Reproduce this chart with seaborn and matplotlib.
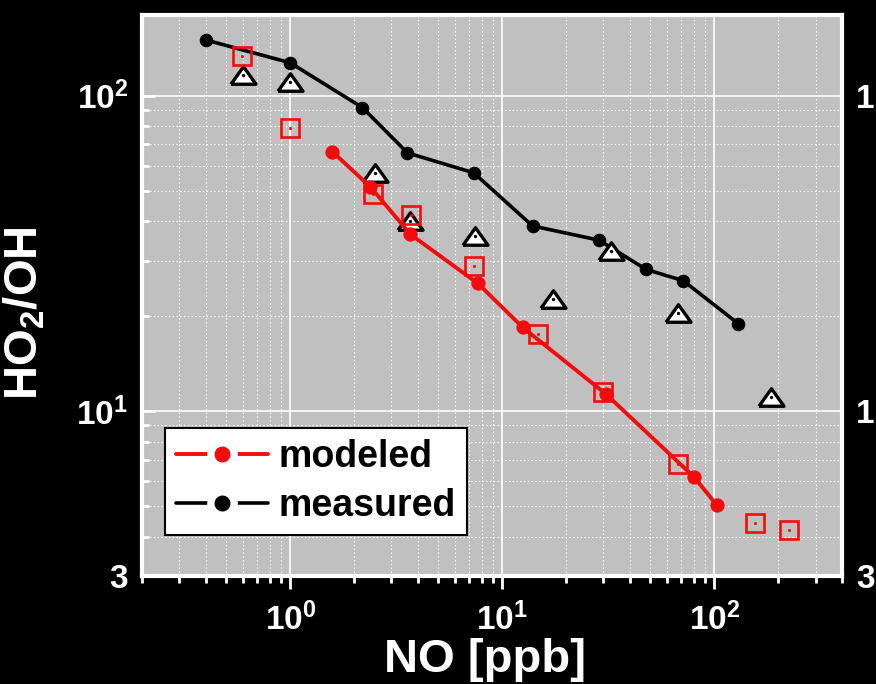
import numpy as np
import pandas as pd
import matplotlib
matplotlib.use("Agg")
import matplotlib.pyplot as plt
import seaborn as sns
from matplotlib.lines import Line2D
from matplotlib.legend_handler import HandlerTuple
from matplotlib.ticker import FixedLocator, NullFormatter, FixedFormatter

# ---------------- data ----------------
measured_no = [0.40, 1.0, 2.19, 3.57, 7.33, 13.9, 28.6, 47.7, 71.3, 130]
measured_ratio = [150, 127, 91.6, 65.8, 56.9, 38.6, 34.8, 28.1, 25.9, 18.9]

modeled_no = [1.58, 2.39, 3.69, 7.66, 12.5, 30.9, 80.4, 103]
modeled_ratio = [66.4, 51.3, 36.3, 25.4, 18.4, 11.3, 6.17, 5.02]

square_no = [0.593, 1.0, 2.47, 3.73, 7.35, 14.7, 29.9, 67.6, 156, 224]
square_ratio = [133, 79.1, 48.8, 41.8, 28.8, 17.5, 11.5, 6.78, 4.43, 4.20]

triangle_no = [0.60, 1.0, 2.52, 3.69, 7.41, 17.3, 32.6, 67.6, 186]
triangle_ratio = [116, 110, 56.9, 40.0, 35.8, 22.6, 32.1, 20.4, 11.1]

x_major = [1, 10, 100]
x_major_labels = [r"$\mathbf{10^{0}}$", r"$\mathbf{10^{1}}$", r"$\mathbf{10^{2}}$"]
y_major = [3, 10, 100]
y_major_labels = [r"$\mathbf{3}$", r"$\mathbf{10^{1}}$", r"$\mathbf{10^{2}}$"]
y_right_labels = ["3", "1", "1"]   # right-hand labels, cropped in the original
legend_labels = ["modeled", "measured"]

# ---------------- style ----------------
sns.set_style("dark")
plt.rcParams["font.family"] = ["Liberation Sans", "DejaVu Sans"]
plt.rcParams["font.weight"] = "bold"
plt.rcParams["mathtext.fontset"] = "custom"
plt.rcParams["mathtext.rm"] = "Liberation Sans:bold"
plt.rcParams["mathtext.bf"] = "Liberation Sans:bold"
plt.rcParams["mathtext.it"] = "Liberation Sans:bold:italic"

RED = "#f20c0c"
BG = "#c0c0c0"

fig = plt.figure(figsize=(8.76, 6.84), dpi=100, facecolor="black")
ax = fig.add_axes([142 / 876, 1 - 576 / 684, 700 / 876, 561 / 684])
ax.set_facecolor(BG)
ax.set_xscale("log")
ax.set_yscale("log")

tri = [(-1.0, -0.7), (1.0, -0.7), (0.0, 0.7), (-1.0, -0.7)]
df_tri = pd.DataFrame({"NO": triangle_no, "ratio": triangle_ratio})
df_sq = pd.DataFrame({"NO": square_no, "ratio": square_ratio})
df_meas = pd.DataFrame({"NO": measured_no, "ratio": measured_ratio})
df_mod = pd.DataFrame({"NO": modeled_no, "ratio": modeled_ratio})

sns.lineplot(data=df_meas, x="NO", y="ratio", ax=ax, color="black",
             linewidth=2.6, marker="o", markersize=9, markeredgecolor="black",
             markerfacecolor="black", errorbar=None, zorder=3, legend=False)

sns.lineplot(data=df_tri, x="NO", y="ratio", ax=ax, linestyle="none",
             marker=tri, markersize=18, markerfacecolor="white",
             markeredgecolor="black", markeredgewidth=2.4, color="black",
             errorbar=None, zorder=4, legend=False)
sns.lineplot(data=df_tri, x="NO", y="ratio", ax=ax, linestyle="none",
             marker="o", markersize=2.4, markerfacecolor="black",
             markeredgecolor="black", markeredgewidth=0, color="black",
             errorbar=None, zorder=4.1, legend=False)

sns.lineplot(data=df_sq, x="NO", y="ratio", ax=ax, linestyle="none",
             marker="s", markersize=13, markerfacecolor="none",
             markeredgecolor=RED, markeredgewidth=1.9, color=RED,
             errorbar=None, zorder=5, legend=False)
sns.lineplot(data=df_sq, x="NO", y="ratio", ax=ax, linestyle="none",
             marker="o", markersize=2.2, markerfacecolor=RED,
             markeredgecolor=RED, markeredgewidth=0, color=RED,
             errorbar=None, zorder=5.1, legend=False)

sns.lineplot(data=df_mod, x="NO", y="ratio", ax=ax, color=RED,
             linewidth=2.8, marker="o", markersize=9.5, markeredgecolor=RED,
             markerfacecolor=RED, errorbar=None, zorder=6, legend=False)

ax.set_xlim(0.2, 400)
ax.set_ylim(3, 180)

# ticks
ax.xaxis.set_major_locator(FixedLocator(x_major))
ax.xaxis.set_major_formatter(FixedFormatter(x_major_labels))
x_minor = [m * d for d in (0.1, 1, 10, 100) for m in range(2, 10)]
ax.xaxis.set_minor_locator(FixedLocator(x_minor))
ax.xaxis.set_minor_formatter(NullFormatter())

ax.yaxis.set_major_locator(FixedLocator(y_major))
ax.yaxis.set_major_formatter(FixedFormatter(y_major_labels))
y_minor = [m * d for d in (1, 10, 100) for m in range(2, 10) if m * d != 3]
ax.yaxis.set_minor_locator(FixedLocator(y_minor))
ax.yaxis.set_minor_formatter(NullFormatter())

ax.tick_params(axis="y", which="both", direction="in", left=True, right=True,
               labelleft=True, labelright=False, colors="white", labelcolor="white",
               labelsize=24, pad=10)
ax.tick_params(axis="y", which="major", length=9, width=2)
ax.tick_params(axis="y", which="minor", length=5, width=2)
ax.tick_params(axis="x", which="both", direction="out", bottom=True, top=False,
               colors="white", labelcolor="white", labelsize=24, pad=10)
ax.tick_params(axis="x", which="major", length=9, width=2)
ax.tick_params(axis="x", which="minor", length=5, width=2)

# grid
ax.grid(True, which="major", color="white", linewidth=1.2, linestyle="-")
ax.grid(True, which="minor", color="white", linewidth=0.8, linestyle=(0, (1.2, 2.2)))
ax.set_axisbelow(True)

for s in ax.spines.values():
    s.set_visible(True)
    s.set_color("white")
    s.set_linewidth(3)

# right-hand labels (as cropped in the original)
ax2 = ax.twinx()
ax2.set_yscale("log")
ax2.set_ylim(ax.get_ylim())
ax2.yaxis.set_major_locator(FixedLocator(y_major))
ax2.yaxis.set_major_formatter(FixedFormatter(y_right_labels))
ax2.yaxis.set_minor_locator(FixedLocator([]))
ax2.tick_params(axis="y", which="both", length=0, pad=10, labelsize=24,
                labelcolor="white")
for t in ax2.get_yticklabels():
    t.set_fontweight("bold")
for s in ax2.spines.values():
    s.set_visible(False)
ax2.grid(False)

# labels
ax.set_xlabel("NO [ppb]", color="white", fontsize=34, fontweight="bold", va="center")
ax.xaxis.set_label_coords(0.49, -0.15)
ax.set_ylabel(r"HO$_\mathbf{2}$/OH", color="white", fontsize=34, fontweight="bold", va="center")
ax.yaxis.set_label_coords(-0.167, 0.469)

# legend
h_mod = (Line2D([], [], color=RED, lw=2.8),
         Line2D([], [], ls="none", marker="o", ms=21, mfc="white", mec="white"),
         Line2D([], [], ls="none", marker="o", ms=10.5, mfc=RED, mec=RED))
h_meas = (Line2D([], [], color="black", lw=2.6),
          Line2D([], [], ls="none", marker="o", ms=21, mfc="white", mec="white"),
          Line2D([], [], ls="none", marker="o", ms=10.5, mfc="black", mec="black"))
leg = ax2.legend([h_mod, h_meas], legend_labels,
                 handler_map={tuple: HandlerTuple(ndivide=1, pad=0)},
                 loc="lower left", bbox_to_anchor=(0.033, 0.073), borderaxespad=0,
                 fancybox=False, framealpha=1, facecolor="white", edgecolor="black",
                 prop={"family": "Liberation Sans", "weight": "bold", "size": 27},
                 handlelength=2.45, handletextpad=0.28, borderpad=0.3,
                 labelspacing=0.33, numpoints=1, labelcolor="black")
leg.get_frame().set_linewidth(1.5)
leg.set_zorder(10)

fig.savefig("out.png", dpi=100, facecolor="black")
